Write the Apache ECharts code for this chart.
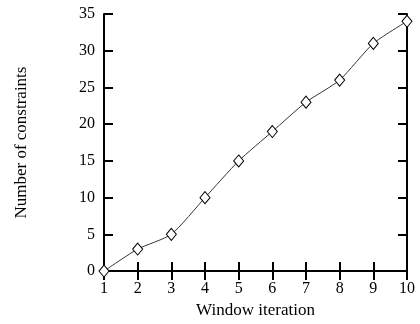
<!DOCTYPE html>
<html><head><meta charset="utf-8">
<script src="https://cdn.jsdelivr.net/npm/echarts@6/dist/echarts.min.js"></script>
<style>html,body{margin:0;padding:0;background:#fff}#c{width:420px;height:324px}</style>
</head><body><div id="c"></div>
<script>
const iterations = [1,2,3,4,5,6,7,8,9,10];
const constraints = [0,3,5,10,15,19,23,26,31,34];
const xTitle = 'Window iteration';
const yTitle = 'Number of constraints';

const font = 'Liberation Serif';
const axisLine = {show:true, lineStyle:{color:'#000', width:2}};
const axisTick = {show:true, inside:true, length:9, lineStyle:{color:'#000', width:2}};
const chart = echarts.init(document.getElementById('c'));
chart.setOption({
  animation:false,
  grid:{left:104, right:13, top:14, bottom:45},
  xAxis:[{
    type:'value', min:1, max:10, interval:1, position:'bottom',
    name:xTitle, nameLocation:'middle', nameGap:27,
    nameTextStyle:{fontFamily:font, fontSize:17, color:'#000'},
    axisLine, axisTick, splitLine:{show:false},
    axisLabel:{fontFamily:font, fontSize:16, color:'#000', margin:10}
  },{
    type:'value', min:1, max:10, interval:1, position:'top',
    axisLine, axisTick, splitLine:{show:false}, axisLabel:{show:false}
  }],
  yAxis:[{
    type:'value', min:0, max:35, interval:5, position:'left',
    name:yTitle, nameLocation:'middle', nameGap:74,
    nameTextStyle:{fontFamily:font, fontSize:17, color:'#000'},
    axisLine, axisTick, splitLine:{show:false},
    axisLabel:{fontFamily:font, fontSize:16, color:'#000', margin:9}
  },{
    type:'value', min:0, max:35, interval:5, position:'right',
    axisLine, axisTick, splitLine:{show:false}, axisLabel:{show:false}
  }],
  series:[{
    type:'line',
    data:iterations.map((x,i)=>[x, constraints[i]]),
    smooth:0.2,
    symbol:'diamond', symbolSize:[10,12],
    showAllSymbol:true,
    lineStyle:{color:'#333', width:1},
    itemStyle:{color:'#fff', borderColor:'#000', borderWidth:1},
    clip:false
  }]
});
</script></body></html>
